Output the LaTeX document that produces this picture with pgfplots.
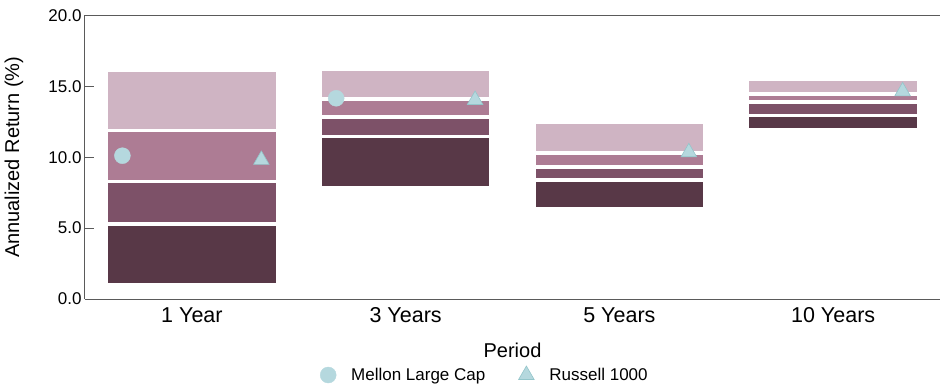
\documentclass[border=0pt]{standalone}
\usepackage{pgfplots}
\pgfplotsset{compat=1.18}
\usepackage{pgfplotstable}
\usepackage{fontspec}
\setmainfont{Liberation Sans}
\usetikzlibrary{calc}
\definecolor{q1}{HTML}{CFB4C3}
\definecolor{q2}{HTML}{AD7C94}
\definecolor{q3}{HTML}{7D5168}
\definecolor{q4}{HTML}{583847}
\definecolor{mk}{HTML}{B5D8DE}
\definecolor{mkedge}{HTML}{5FA9AB}
\definecolor{axc}{HTML}{5A5A5A}

\pgfplotstableread{
x  base  s4    s3   s2   s1
0  1.03  4.27  3.00 3.60 4.25
1  7.85  3.60  1.40 1.25 2.10
2  6.35  2.05  0.90 1.00 2.14
3  11.94 1.01  0.95 0.55 1.05
}\bands

\pgfplotsset{
  common/.style={
    scale only axis, width=855pt, height=283.5pt,
    xmin=-0.5, xmax=3.5, ymin=0, ymax=20,
  }
}

\begin{document}
\begin{tikzpicture}
\begin{axis}[common, name=ax,
  ybar stacked, bar width=0.80,
  axis x line=box, axis y line=left,
  x axis line style={-}, y axis line style={-},
  axis line style={draw=axc, line width=1pt},
  xtick={0,1,2,3},
  xticklabels={1 Year,3 Years,5 Years,10 Years},
  major x tick style={draw=none},
  ytick={0,5,10,15,20},
  ytick pos=left,
  tick align=inside,
  major tick length=9pt,
  major y tick style={draw=axc, line width=1pt},
  yticklabel style={font=\fontsize{17}{20}\selectfont,
    /pgf/number format/.cd, fixed, fixed zerofill, precision=1, assume math mode=true},
  xticklabel style={font=\fontsize{21.5}{25}\selectfont, yshift=-5pt},
  xlabel={Period},
  ylabel={Annualized Return (\%)},
  xlabel style={font=\fontsize{20}{24}\selectfont, at={(axis description cs:0.5,-0.18)}, anchor=center},
  ylabel style={font=\fontsize{20}{24}\selectfont, at={(axis description cs:-0.083,0.5)}, anchor=center},
]
\addplot[draw=none, fill=none] table[x=x, y=base] {\bands};
\addplot[fill=q4, draw=white, line width=3.5pt] table[x=x, y=s4] {\bands};
\addplot[fill=q3, draw=white, line width=3.5pt] table[x=x, y=s3] {\bands};
\addplot[fill=q2, draw=white, line width=3.5pt] table[x=x, y=s2] {\bands};
\addplot[fill=q1, draw=white, line width=3.5pt] table[x=x, y=s1] {\bands};
\end{axis}
\begin{axis}[common, hide axis,
  legend columns=2,
  legend style={at={(axis description cs:0.2725,-0.268)}, anchor=west,
    draw=none, fill=none, inner sep=0pt,
    font=\fontsize{17}{20}\selectfont,
    nodes={inner sep=2pt},
    /tikz/column 2/.style={column sep=29pt}},
  legend image code/.code={\path[draw=none, fill=none] (0pt,-1pt) rectangle (31pt,1pt); \draw[#1] plot coordinates {(10pt,0pt)};},
]
\addplot[only marks, mark=*, mark size=8pt, mark options={fill=mk, draw=mk}] coordinates {(-0.325,10.11) (0.675,14.16)};
\addlegendentry{Mellon Large Cap}
\addplot[only marks, mark=triangle*, mark size=9pt, mark options={fill=mk, draw=mkedge!40!mk, line width=0.6pt}] coordinates {(0.325,9.81) (1.325,14.04) (2.325,10.35) (3.325,14.65)};
\addlegendentry{Russell 1000}
\end{axis}
\pgfresetboundingbox
\path[use as bounding box] ($(ax.south west)+(-85pt,-89pt)$) rectangle ($(ax.north east)+(1pt,15.5pt)$);
\end{tikzpicture}
\end{document}
